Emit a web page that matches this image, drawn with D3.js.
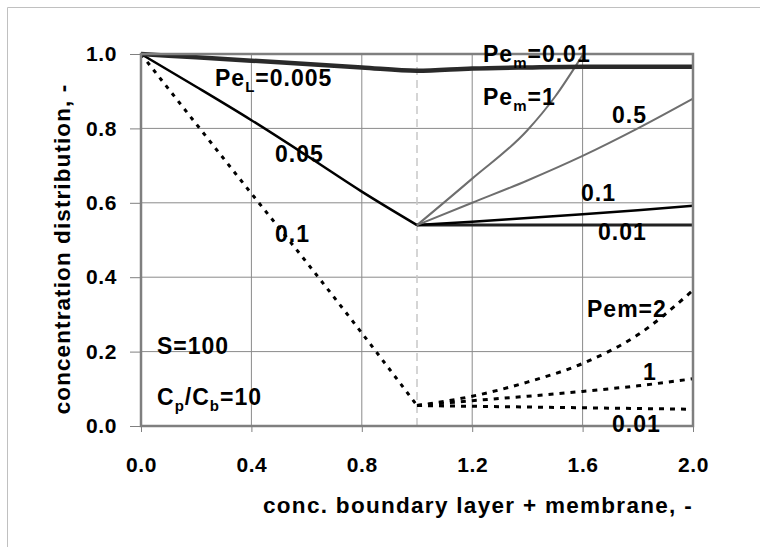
<!DOCTYPE html>
<html>
<head>
<meta charset="utf-8">
<script src="https://cdn.jsdelivr.net/npm/d3@7"></script>
<style>
  html, body { margin: 0; padding: 0; background: #fff; }
  svg { display: block; }
  text { font-family: "Liberation Sans", Arial, Helvetica, sans-serif; font-weight: bold; fill: #000; }
</style>
</head>
<body>
<svg id="chart" width="760" height="547"></svg>
<script>
// ---------- data ----------
const xTicks = [0.0, 0.4, 0.8, 1.2, 1.6, 2.0];
const yTicks = [0.0, 0.2, 0.4, 0.6, 0.8, 1.0];

// boundary layer (x 0..1)
const xLayer = [0.0, 0.2, 0.4, 0.6, 0.8, 1.0];
const layerPeL0005 = [1.0, 0.991, 0.982, 0.973, 0.964, 0.955];
const layerPeL005  = [1.0, 0.912, 0.822, 0.727, 0.630, 0.54];
const layerPeL01   = [1.0, 0.812, 0.625, 0.440, 0.250, 0.055];

// membrane (x 1..2)
const xMem = [1.0, 1.2, 1.4, 1.6, 1.8, 2.0];
const memPeL0005     = [0.955, 0.961, 0.964, 0.966, 0.966, 0.966];
const memPeL005Pem001 = [0.54, 0.54, 0.54, 0.54, 0.54, 0.54];
const memPeL005Pem01  = [0.54, 0.549, 0.559, 0.569, 0.580, 0.592];
const memPeL005Pem05  = [0.54, 0.600, 0.660, 0.726, 0.800, 0.880];
const xMemPem1 = [1.0, 1.2, 1.4, 1.5, 1.6];
const memPeL005Pem1   = [0.54, 0.665, 0.795, 0.885, 0.997];
const memPeL01Pem2    = [0.055, 0.080, 0.118, 0.168, 0.245, 0.365];
const memPeL01Pem1    = [0.055, 0.068, 0.080, 0.093, 0.108, 0.127];
const memPeL01Pem001  = [0.055, 0.053, 0.051, 0.049, 0.047, 0.045];

const xLabel = "conc. boundary layer + membrane, -";
const yLabel = "concentration distribution, -";

// ---------- drawing ----------
const svg = d3.select("#chart");
const x = d3.scaleLinear().domain([0, 2]).range([141, 693]);
const y = d3.scaleLinear().domain([0, 1]).range([426, 54]);

// outer frame
svg.append("path")
  .attr("d", "M7.5,547 L7.5,7.5 L760,7.5")
  .attr("fill", "none").attr("stroke", "#c0c0c0").attr("stroke-width", 1);

// grid
const grid = svg.append("g");
grid.selectAll("line.gx").data(xTicks.filter(d => d > 0 && d < 2)).join("line")
  .attr("x1", d => x(d)).attr("x2", d => x(d)).attr("y1", y(0)).attr("y2", y(1))
  .attr("stroke", "#8a8a8a").attr("stroke-width", 1);
grid.selectAll("line.gy").data(yTicks.filter(d => d > 0 && d < 1)).join("line")
  .attr("x1", x(0)).attr("x2", x(2)).attr("y1", d => y(d)).attr("y2", d => y(d))
  .attr("stroke", "#8a8a8a").attr("stroke-width", 1);

// dashed separator at x = 1
svg.append("line")
  .attr("x1", x(1)).attr("x2", x(1)).attr("y1", y(1)).attr("y2", y(0))
  .attr("stroke", "#c8c8c8").attr("stroke-width", 1.5).attr("stroke-dasharray", "8,5");

// axes
const xAxis = svg.append("g").attr("transform", `translate(0,${y(0)})`)
  .call(d3.axisBottom(x).tickValues(xTicks).tickFormat(d3.format(".1f")).tickSize(6).tickPadding(25));
const yAxis = svg.append("g").attr("transform", `translate(${x(0)},0)`)
  .call(d3.axisLeft(y).tickValues(yTicks).tickFormat(d3.format(".1f")).tickSize(11).tickPadding(13));
[xAxis, yAxis].forEach(g => {
  g.select(".domain").remove();
  g.selectAll(".tick line").attr("stroke", "#808080").attr("stroke-width", 1);
  g.selectAll(".tick text").style("font-size", "21px").style("letter-spacing", "0.6px")
    .attr("fill", "#000");
});

// series
const line = d3.line().x(d => x(d[0])).y(d => y(d[1])).curve(d3.curveMonotoneX);
const zipS = (xs, ys) => xs.map((v, i) => [v, ys[i]]);
const series = [
  { xs: xLayer, ys: layerPeL005, color: "#000", w: 2.5, dash: null },
  { xs: xMem, ys: memPeL005Pem001, color: "#222", w: 3, dash: null },
  { xs: xMem, ys: memPeL005Pem01, color: "#000", w: 2.5, dash: null },
  { xs: xMem, ys: memPeL005Pem05, color: "#6e6e6e", w: 2, dash: null },
  { xs: xMemPem1, ys: memPeL005Pem1, color: "#6e6e6e", w: 2, dash: null },
  { xs: xLayer, ys: layerPeL01, color: "#000", w: 3, dash: "4,6" },
  { xs: xMem, ys: memPeL01Pem2, color: "#000", w: 3, dash: "5,6" },
  { xs: xMem, ys: memPeL01Pem1, color: "#000", w: 3, dash: "5,6" },
  { xs: xMem, ys: memPeL01Pem001, color: "#000", w: 3, dash: "5,6" },
  { xs: xLayer.concat(xMem.slice(1)), ys: layerPeL0005.concat(memPeL0005.slice(1)), color: "#2a2a2a", w: 4.5, dash: null }
];
svg.append("g").selectAll("path").data(series).join("path")
  .attr("d", s => line(zipS(s.xs, s.ys)))
  .attr("fill", "none")
  .attr("stroke", s => s.color)
  .attr("stroke-width", s => s.w)
  .attr("stroke-dasharray", s => s.dash);

// plot frame
svg.append("rect")
  .attr("x", x(0)).attr("y", y(1)).attr("width", x(2) - x(0)).attr("height", y(0) - y(1))
  .attr("fill", "none").attr("stroke", "#7f7f7f").attr("stroke-width", 2.5);

// annotations
const labels = svg.append("g").style("font-size", "23px").style("letter-spacing", "1px");
function label(px, py, main, sub, rest) {
  const t = labels.append("text").attr("x", px).attr("y", py);
  t.append("tspan").text(main);
  if (sub) {
    t.append("tspan").attr("dy", 6).style("font-size", "15px").text(sub);
    t.append("tspan").attr("dy", -6).text(rest);
  }
  return t;
}
label(215, 86, "Pe", "L", "=0.005");
label(275, 162, "0.05");
label(275, 242, "0.1");
label(483, 62, "Pe", "m", "=0.01");
label(483, 105, "Pe", "m", "=1");
label(612, 123, "0.5");
label(581, 201, "0.1");
label(598, 240, "0.01");
label(587, 317, "Pem=2");
label(643, 380, "1");
label(612, 432, "0.01");
label(157, 354, "S=100");
const cp = labels.append("text").attr("x", 157).attr("y", 405);
cp.append("tspan").text("C");
cp.append("tspan").attr("dy", 6).style("font-size", "15px").text("p");
cp.append("tspan").attr("dy", -6).text("/C");
cp.append("tspan").attr("dy", 6).style("font-size", "15px").text("b");
cp.append("tspan").attr("dy", -6).text("=10");

// axis titles
svg.append("text").attr("x", 478).attr("y", 513).attr("text-anchor", "middle")
  .style("font-size", "22.5px").style("letter-spacing", "1.3px").text(xLabel);
svg.append("text").attr("transform", "translate(70,249) rotate(-90)").attr("text-anchor", "middle")
  .style("font-size", "22.5px").style("letter-spacing", "1.1px").text(yLabel);
</script>
</body>
</html>
